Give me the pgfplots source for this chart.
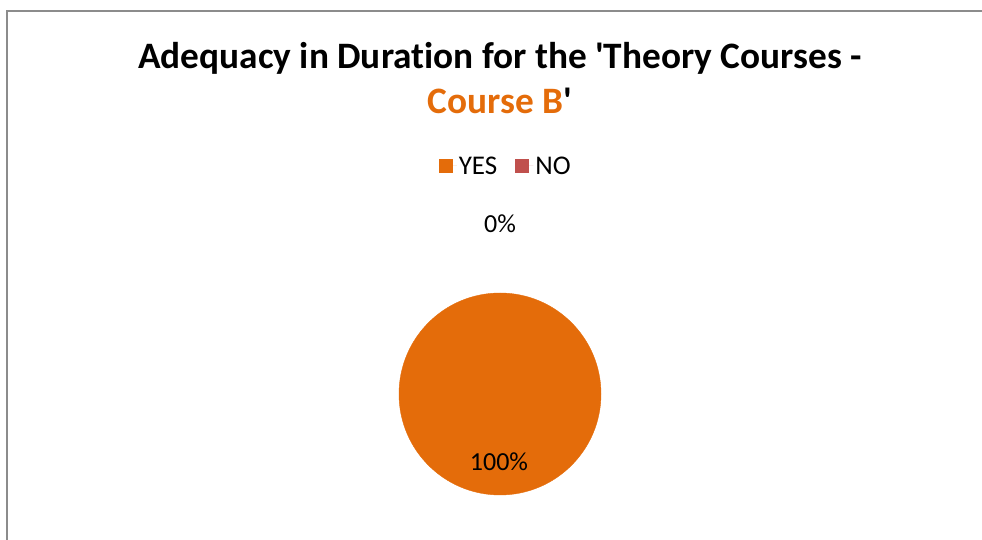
\documentclass[border=0pt]{standalone}
\usepackage{pgfplots}
\pgfplotsset{compat=1.18}
\usepackage{fontspec}
\setmainfont{Carlito}[Ligatures={NoCommon}]
\definecolor{pieorange}{HTML}{E46C0A}
\definecolor{piered}{HTML}{C0504D}
\definecolor{framegray}{HTML}{8C8C8C}
\begin{document}
\begin{tikzpicture}
\begin{axis}[
  x=1pt, y=1pt,
  xmin=0, xmax=982, ymin=0, ymax=540,
  hide axis, clip=false,
  legend style={at={(0.515,0.6926)}, anchor=center, draw=none, fill=none,
    legend columns=2, font=\fontsize{27}{32}\selectfont,
    /tikz/every even column/.append style={column sep=16pt},
    legend cell align=left},
  legend image code/.code={\fill[#1] (0pt,-7.5pt) rectangle (14pt,7pt); \path (0pt,0pt) -- (18pt,0pt);},
]
% pie: YES = 100 %, NO = 0 %
\addplot[only marks, color=pieorange, mark=*, mark size=101pt, mark options={draw=none, fill=pieorange}, forget plot]
  coordinates {(500,146)};
\addlegendimage{fill=pieorange, draw=none}
\addlegendentry{YES}
\addlegendimage{fill=piered, draw=none}
\addlegendentry{NO}
\coordinate (lblyes) at (axis cs:499,78);
\coordinate (lblno) at (axis cs:500,316);
\coordinate (t1) at (axis cs:500,471);
\coordinate (t2) at (axis cs:500,426);
\draw[framegray, line width=1.5pt] (axis cs:7,0) -- (axis cs:7,529) -- (axis cs:982,529);
\end{axis}
\node[font=\fontsize{26}{30}\selectfont] at (lblno) {0\%};
\node[font=\fontsize{26}{30}\selectfont] at (lblyes) {100\%};
\node[anchor=base, font=\bfseries\fontsize{37.3}{42}\selectfont] at (t1) {Adequacy in Duration for the \textquotesingle Theory Courses -};
\node[anchor=base, font=\bfseries\fontsize{37.3}{42}\selectfont] at (t2) {\textcolor{pieorange}{Course B}\textquotesingle};
\pgfresetboundingbox
\useasboundingbox (current axis.south west) rectangle (current axis.north east);
\end{tikzpicture}
\end{document}
